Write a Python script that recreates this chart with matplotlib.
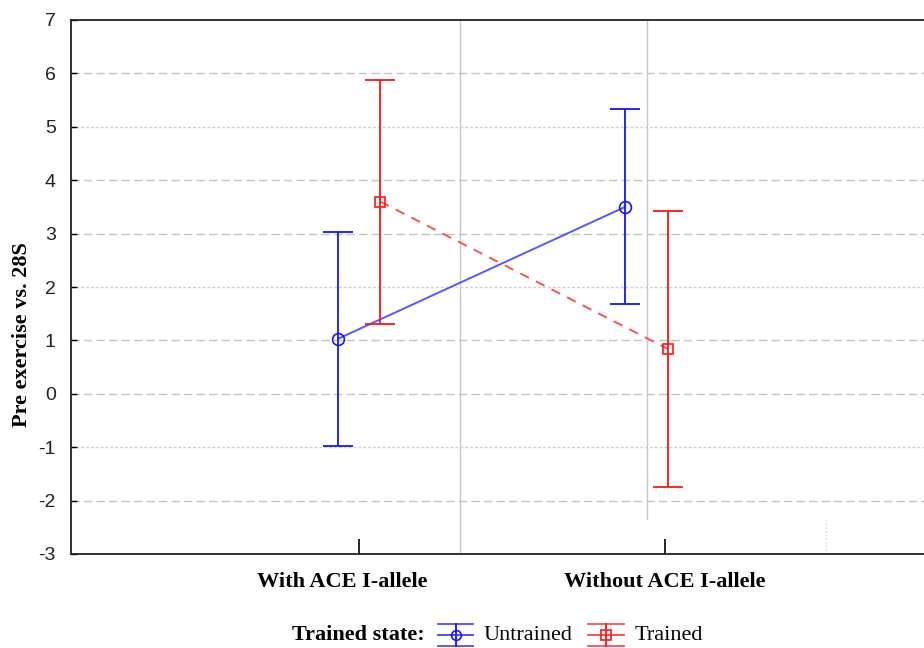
import matplotlib
matplotlib.use("Agg")
import matplotlib.pyplot as plt
from matplotlib.lines import Line2D
from matplotlib.transforms import ScaledTranslation
import numpy as np

# Group labels and per-series summary statistics (mean with interval bounds)
groups = ["With ACE I-allele", "Without ACE I-allele"]
series_names = ["Untrained", "Trained"]

untrained_mean = [1.03, 3.50]
untrained_low = [-0.98, 1.68]
untrained_high = [3.03, 5.33]

trained_mean = [3.60, 0.84]
trained_low = [1.30, -1.74]
trained_high = [5.88, 3.43]

yticks = [-3, -2, -1, 0, 1, 2, 3, 4, 5, 6, 7]

SERIF = ["Liberation Serif", "DejaVu Serif"]
SANS = ["Liberation Sans", "DejaVu Sans"]

W, H = 924, 648
fig = plt.figure(figsize=(W / 100, H / 100), dpi=100)
ax = fig.add_axes([71 / W, 1 - 554 / H, 870 / W, 534 / H])

xpos = np.arange(len(groups))
# horizontal dodge of each series within a group
dodge_untrained = np.array([-0.07, -0.13])
dodge_trained = np.array([0.068, 0.01])

blue = "#1414ff"
red = "#ff1414"

um = np.array(untrained_mean)
tm = np.array(trained_mean)

ax.errorbar(xpos + dodge_untrained, um,
            yerr=[um - np.array(untrained_low), np.array(untrained_high) - um],
            fmt="none", ecolor=blue, elinewidth=1.3, capsize=10.5, capthick=1.3, zorder=4)
ax.plot(xpos + dodge_untrained, um, color="#3a3aff", lw=1.4, alpha=0.85, zorder=3)
ax.plot(xpos + dodge_untrained, um, ls="none", marker="o", ms=8.5,
        mfc="none", mec=blue, mew=1.2, zorder=5)

ax.errorbar(xpos + dodge_trained, tm,
            yerr=[tm - np.array(trained_low), np.array(trained_high) - tm],
            fmt="none", ecolor=red, elinewidth=1.3, capsize=11, capthick=1.3, zorder=4)
ax.plot(xpos + dodge_trained, tm, color="#ff5050", lw=1.4, ls=(0, (5, 4)), zorder=3)
ax.plot(xpos + dodge_trained, tm, ls="none", marker="s", ms=7.5,
        mfc="none", mec=red, mew=1.2, zorder=5)

ax.set_ylim(-3, 7)
ax.set_xlim(-0.944, 1.904)
ax.set_yticks(yticks)
ax.set_yticklabels([str(v) for v in yticks], fontfamily=SANS, fontsize=14,
                   color="#222222")
ax.set_xticks(xpos)
ax.set_xticklabels(groups, fontfamily=SERIF, fontsize=16, fontweight="bold")
ax.tick_params(axis="y", direction="in", length=4, width=1, pad=11)
ax.tick_params(axis="x", direction="in", length=11, width=1.2, pad=13)
# first group label sits slightly left of its tick
lbl0 = ax.get_xticklabels()[0]
lbl0.set_transform(lbl0.get_transform() + ScaledTranslation(-0.17, 0, fig.dpi_scale_trans))

# horizontal grid: long dashes, with finer dotted rows at 5, 2 and -1
for v in yticks[1:-1]:
    if v in (5, 2, -1):
        ax.axhline(v, color="#d0d0d0", lw=1.0, ls=(0, (2, 1.5)), zorder=1)
    else:
        ax.axhline(v, color="#c4c4c4", lw=1.0, ls=(0, (6, 3)), zorder=1)
# vertical grid lines
ax.axvline(0.331, color="#c8c8c8", lw=1.0, zorder=1)
ax.plot([0.941, 0.941], [-2.35, 7], color="#c8c8c8", lw=1.0, zorder=1)
ax.plot([1.527, 1.527], [-3, -2.35], color="#d4d4d4", lw=1.0, ls=":", zorder=1)

for s in ["left", "bottom", "top"]:
    ax.spines[s].set_linewidth(1.3)
    ax.spines[s].set_color("#222222")
ax.spines["right"].set_visible(False)

fig.text(22 / W, 1 - 335 / H, "Pre exercise vs. 28S", rotation=90, ha="center",
         va="center", fontfamily=SERIF, fontsize=16, fontweight="bold")

# legend: title, error-bar glyphs and series names
ly = 1 - 635 / H
fig.text(425 / W, ly, "Trained state:", ha="right", va="center",
         fontfamily=SERIF, fontsize=16, fontweight="bold")


def legend_glyph(x0, x1, color, marker, label):
    xm = (x0 + x1) / 2
    yt, yb = 1 - 624 / H, 1 - 646 / H
    for yy in (yt, yb):
        fig.add_artist(Line2D([x0 / W, x1 / W], [yy, yy], color=color, lw=1.3,
                              alpha=0.75))
    fig.add_artist(Line2D([x0 / W, x1 / W], [ly, ly], color=color, lw=1.3,
                          alpha=0.8))
    fig.add_artist(Line2D([xm / W, xm / W], [yb, yt], color=color, lw=1.3))
    fig.add_artist(Line2D([xm / W], [ly], marker=marker, ms=7, mfc="none",
                          mec=color, mew=1.2, ls="none"))
    fig.text((x1 + 11) / W, ly, label, ha="left", va="center",
             fontfamily=SERIF, fontsize=16)


legend_glyph(438, 473, blue, "o", series_names[0])
legend_glyph(588, 624, red, "s", series_names[1])

fig.savefig("out.png", dpi=100)
